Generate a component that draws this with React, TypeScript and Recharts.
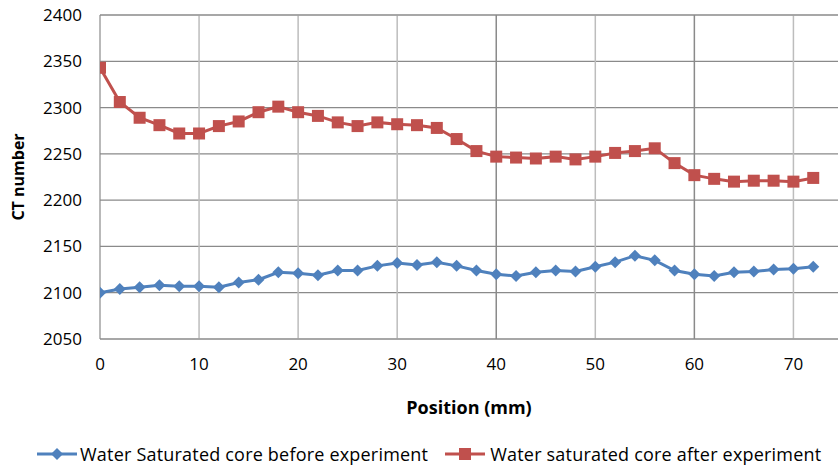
import React from 'react';
import { LineChart, Line, XAxis, YAxis, CartesianGrid, ReferenceLine } from 'recharts';

const positions = [0, 2, 4, 6, 8, 10, 12, 14, 16, 18, 20, 22, 24, 26, 28, 30, 32, 34, 36, 38, 40, 42, 44, 46, 48, 50, 52, 54, 56, 58, 60, 62, 64, 66, 68, 70, 72];
const beforeValues = [2100, 2104, 2106, 2108, 2107, 2107, 2106, 2111, 2114, 2122, 2121, 2119, 2124, 2124, 2129, 2132, 2130, 2133, 2129, 2124, 2120, 2118, 2122, 2124, 2123, 2128, 2133, 2140, 2135, 2124, 2120, 2118, 2122, 2123, 2125, 2126, 2128];
const afterValues = [2343, 2306, 2289, 2281, 2272, 2272, 2280, 2285, 2295, 2301, 2295, 2291, 2284, 2280, 2284, 2282, 2281, 2278, 2266, 2253, 2247, 2246, 2245, 2247, 2244, 2247, 2251, 2253, 2256, 2240, 2227, 2223, 2220, 2221, 2221, 2220, 2224];
const xTicks = [0, 10, 20, 30, 40, 50, 60, 70];
const yTicks = [2050, 2100, 2150, 2200, 2250, 2300, 2350, 2400];
const beforeName = 'Water Saturated core before experiment';
const afterName = 'Water saturated core after experiment';
const xTitle = 'Position (mm)';
const yTitle = 'CT number';

const data = positions.map((p, i) => ({ pos: p, before: beforeValues[i], after: afterValues[i] }));

const BLUE = '#4F81BD';
const RED = '#C0504D';
const FONT = '"Open Sans", Lato, sans-serif';

const Diamond = (props: any) => {
  const { cx, cy, index } = props;
  if (cx == null || cy == null) return <g key={index} />;
  const r = 6;
  return <path key={`d${index}`} d={`M${cx},${cy - r}L${cx + r},${cy}L${cx},${cy + r}L${cx - r},${cy}Z`} fill={BLUE} stroke="none" />;
};

const Square = (props: any) => {
  const { cx, cy, index } = props;
  if (cx == null || cy == null) return <g key={index} />;
  const s = 12;
  return <rect key={`s${index}`} x={cx - s / 2} y={cy - s / 2} width={s} height={s} fill={RED} stroke="none" />;
};

const YTitle = (props: any) => {
  const vb = props.viewBox || {};
  const x = 18;
  const y = vb.y + vb.height / 2;
  return (
    <text x={x} y={y} transform={`rotate(-90, ${x}, ${y})`} textAnchor="middle" dominantBaseline="central" fontFamily={FONT} fontWeight="bold" fontSize={16} fill="#000">
      {yTitle}
    </text>
  );
};

const XTitle = (props: any) => {
  const vb = props.viewBox || {};
  const x = vb.x + vb.width / 2;
  const y = vb.y + 68;
  return (
    <text x={x} y={y} textAnchor="middle" dominantBaseline="central" fontFamily={FONT} fontWeight="bold" fontSize={18} fill="#000">
      {xTitle}
    </text>
  );
};

export default function App() {
  return (
    <div style={{ position: 'absolute', left: 0, top: 0, width: 838, height: 469, background: '#fff', overflow: 'hidden' }}>
      <LineChart width={838} height={469} data={data} margin={{ top: 15, right: 0, bottom: 0, left: 0 }}>
        <CartesianGrid horizontal={true} vertical={false} stroke="#8a8a8a" strokeWidth={1.2} />
        {xTicks.slice(1).map((t) => (
          <ReferenceLine key={t} x={t} stroke={t === 40 || t === 60 ? '#8a8a8a' : '#bdbdbd'} strokeWidth={1.5} ifOverflow="hidden" />
        ))}
        <ReferenceLine y={2400} stroke="#8a8a8a" strokeWidth={1.2} />
        <XAxis
          dataKey="pos"
          type="number"
          domain={[0, 74.5]}
          ticks={xTicks}
          allowDataOverflow
          tickLine={false}
          tickSize={0}
          tickMargin={19}
          axisLine={{ stroke: '#8a8a8a', strokeWidth: 1.2 }}
          tick={{ fontFamily: FONT, fontSize: 17, fill: '#000' }}
          height={130}
          label={<XTitle />}
        />
        <YAxis
          type="number"
          domain={[2050, 2400]}
          ticks={yTicks}
          tickLine={false}
          tickSize={0}
          tickMargin={18}
          axisLine={{ stroke: '#8a8a8a', strokeWidth: 1.2 }}
          tick={{ fontFamily: FONT, fontSize: 17, fill: '#000' }}
          width={100}
          label={<YTitle />}
        />
        <Line dataKey="before" name={beforeName} stroke={BLUE} strokeWidth={3} dot={Diamond} activeDot={false} isAnimationActive={false} />
        <Line dataKey="after" name={afterName} stroke={RED} strokeWidth={3} dot={Square} activeDot={false} isAnimationActive={false} />
      </LineChart>
      <div style={{ position: 'absolute', left: 37, top: 442, display: 'flex', alignItems: 'center', fontFamily: FONT, fontSize: 18, letterSpacing: 0.2, color: '#000', whiteSpace: 'nowrap' }}>
        <svg width={40} height={24} style={{ marginRight: 3 }}>
          <line x1={0} y1={12} x2={40} y2={12} stroke={BLUE} strokeWidth={3} />
          <path d="M20,6L26,12L20,18L14,12Z" fill={BLUE} />
        </svg>
        <span>{beforeName}</span>
        <svg width={40} height={24} style={{ marginLeft: 17, marginRight: 5 }}>
          <line x1={0} y1={12} x2={40} y2={12} stroke={RED} strokeWidth={3} />
          <rect x={14} y={6} width={12} height={12} fill={RED} />
        </svg>
        <span>{afterName}</span>
      </div>
    </div>
  );
}
